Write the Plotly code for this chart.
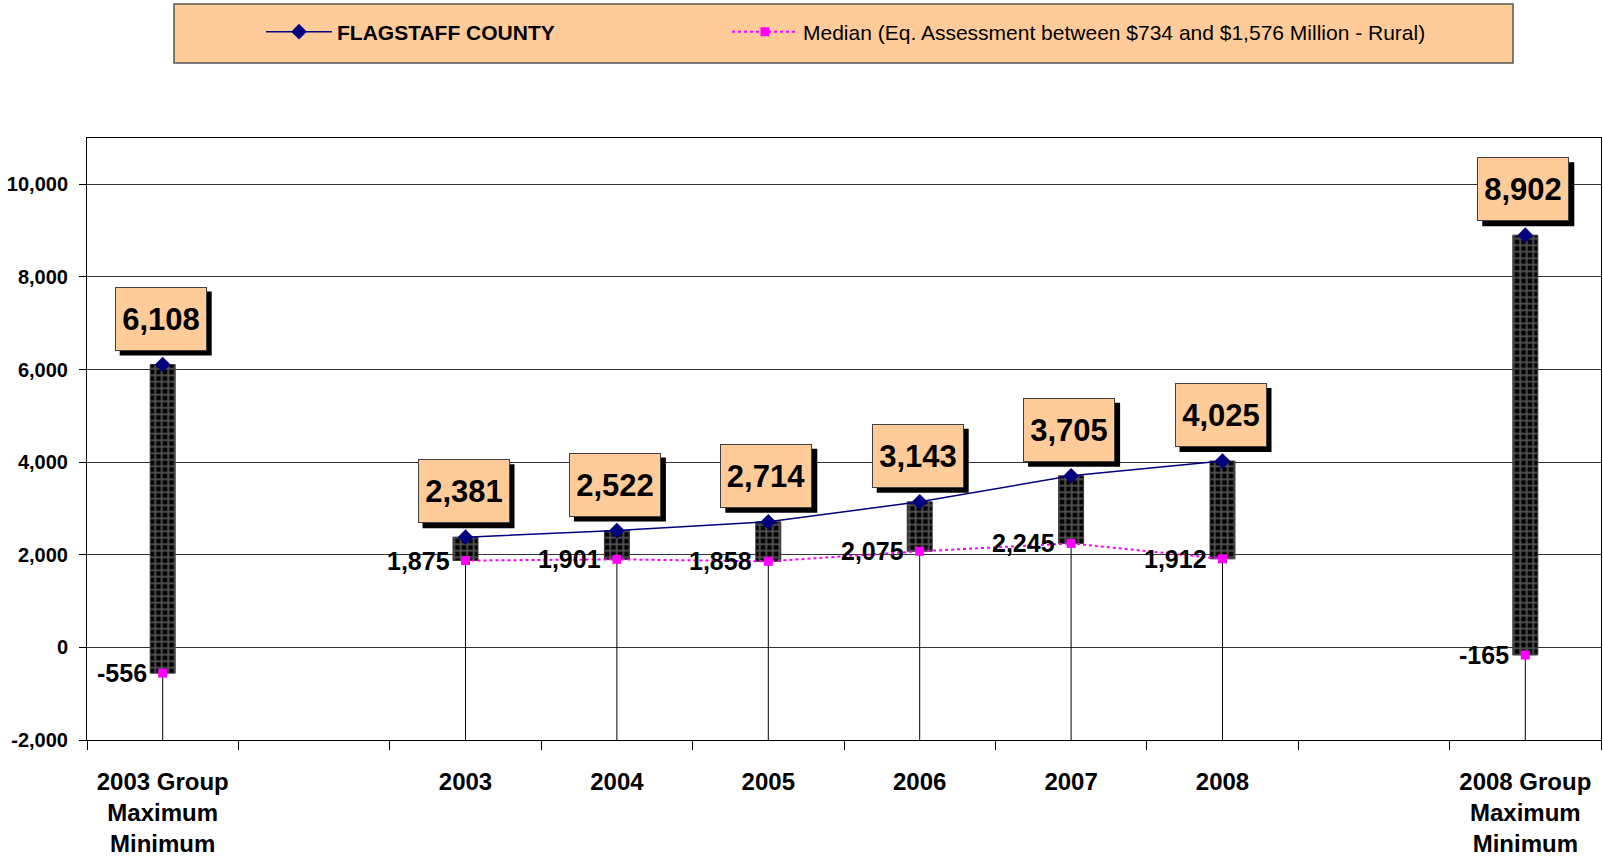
import plotly.graph_objects as go

# ---------------- data ----------------
categories = [
    "2003 Group<br>Maximum<br>Minimum", " ", "2003", "2004", "2005",
    "2006", "2007", "2008", "  ", "2008 Group<br>Maximum<br>Minimum",
]
county_values = [6108, None, 2381, 2522, 2714, 3143, 3705, 4025, None, 8902]
median_values = [-556, None, 1875, 1901, 1858, 2075, 2245, 1912, None, -165]
y_tick_values = [-2000, 0, 2000, 4000, 6000, 8000, 10000]
y_tick_labels = [f"{v:,}" for v in y_tick_values]

county_name = "<b>FLAGSTAFF COUNTY</b>"
median_name = "Median (Eq. Assessment between $734 and $1,576 Million - Rural)"

# ---------------- layout constants ----------------
W, H = 1603, 862
PL, PR, PT, PB = 87, 1601, 138, 740
Y_MIN, Y_MAX = -2000, 11000
FONT = "Liberation Sans, Arial, sans-serif"
BOX_W, BOX_H = 92, 64          # label box size in px
BOX_DX, BOX_DY = -2, 46        # box centre offset from the point, px
SHADOW = 5                     # shadow offset, px


def px_x(px):
    return (px - PL) / (PR - PL)


def px_y(py):
    return 1 + (PT - py) / (PB - PT) if py < PT else (PB - py) / (PB - PT)


fig = go.Figure()

# drop lines from the lower point to the category axis
dx, dy = [], []
for c, m in zip(categories, median_values):
    if m is None:
        continue
    dx += [c, c, None]
    dy += [m, Y_MIN, None]
fig.add_trace(go.Scatter(x=dx, y=dy, mode="lines",
                         line=dict(color="black", width=1),
                         showlegend=False, hoverinfo="skip"))

# high-low bars
bx, blen, bbase = [], [], []
for c, hi, lo in zip(categories, county_values, median_values):
    if hi is None or lo is None:
        continue
    bx.append(c)
    blen.append(hi - lo)
    bbase.append(lo)
fig.add_trace(go.Bar(
    x=bx, y=blen, base=bbase, width=0.165,
    marker=dict(color="black",
                pattern=dict(shape="+", size=6.5, solidity=0.5,
                             fgcolor="#a3a3a3", bgcolor="black"),
                line=dict(color="#3a3a3a", width=1)),
    showlegend=False, hoverinfo="skip"))

fig.add_trace(go.Scatter(
    x=categories, y=county_values, mode="lines+markers", name=county_name,
    line=dict(color="#000080", width=1.5),
    marker=dict(symbol="diamond", size=12, color="#000080"),
    connectgaps=False, legend="legend"))

fig.add_trace(go.Scatter(
    x=categories, y=median_values, mode="lines+markers", name=median_name,
    line=dict(color="#FF00FF", width=2, dash="3px,3px"),
    marker=dict(symbol="square", size=9, color="#FF00FF"),
    connectgaps=False, legend="legend2"))

annotations = []
shapes = [dict(type="rect", xref="paper", yref="paper",
               x0=px_x(174), x1=px_x(1513), y0=px_y(63), y1=px_y(4),
               fillcolor="#FFCC99", line=dict(color="#555555", width=1.5),
               layer="below")]
for i, v in enumerate(county_values):
    if v is None:
        continue
    # drop shadow of the value box
    shapes.append(dict(type="rect", xref="x", yref="y",
                       xsizemode="pixel", ysizemode="pixel",
                       xanchor=i, yanchor=v,
                       x0=BOX_DX - BOX_W / 2 + SHADOW,
                       x1=BOX_DX + BOX_W / 2 + SHADOW,
                       y0=BOX_DY - BOX_H / 2 - SHADOW,
                       y1=BOX_DY + BOX_H / 2 - SHADOW,
                       fillcolor="black", line=dict(width=0), layer="above"))
    annotations.append(dict(x=i, y=v, xref="x", yref="y", text=f"<b>{v:,}</b>",
                            showarrow=False, width=BOX_W - 6, height=BOX_H - 6,
                            borderpad=2, borderwidth=1,
                            xanchor="center", yanchor="middle",
                            bgcolor="#FFCC99", bordercolor="#404040",
                            font=dict(family=FONT, size=31, color="black"),
                            xshift=BOX_DX, yshift=BOX_DY))
for i, m in enumerate(median_values):
    if m is None:
        continue
    annotations.append(dict(x=i, y=m, xref="x", yref="y", text=f"<b>{m:,}</b>",
                            showarrow=False, xanchor="right", yanchor="middle",
                            xshift=-14,
                            font=dict(family=FONT, size=25, color="black")))

legend_common = dict(orientation="h", xanchor="left", y=px_y(32),
                     yanchor="middle", bgcolor="rgba(0,0,0,0)", borderwidth=0,
                     font=dict(family=FONT, size=21, color="black"),
                     itemwidth=66, itemclick=False, itemdoubleclick=False)

fig.update_layout(
    width=W, height=H, autosize=False,
    margin=dict(l=PL, r=W - PR, t=PT, b=H - PB, pad=0),
    paper_bgcolor="white", plot_bgcolor="white",
    font=dict(family=FONT, color="black"),
    barmode="overlay",
    hovermode=False,
    annotations=annotations,
    shapes=shapes,
    legend=dict(legend_common, x=px_x(261)),
    legend2=dict(legend_common, x=px_x(727)),
    xaxis=dict(type="category", categoryorder="array", categoryarray=categories,
               range=[-0.5, len(categories) - 0.5],
               showgrid=False, zeroline=False,
               showline=True, linecolor="black", linewidth=1, mirror=True,
               ticks="outside", tickson="boundaries", ticklen=9,
               tickcolor="black", tickwidth=1,
               tickfont=dict(family=FONT, size=24, color="black", weight="bold"),
               ticklabelstandoff=20),
    yaxis=dict(range=[Y_MIN, Y_MAX], tickmode="array",
               tickvals=y_tick_values, ticktext=y_tick_labels,
               showgrid=True, gridcolor="#333333", gridwidth=1,
               zeroline=False, showline=True, linecolor="black", linewidth=1,
               mirror=True, ticks="outside", ticklen=7, tickcolor="black",
               tickfont=dict(family=FONT, size=20, color="black", weight="bold"),
               ticklabelstandoff=7),
)

fig.write_html("out.html", config={"displayModeBar": False, "staticPlot": True},
               post_script="document.body.style.margin='0';"
                           "document.body.style.overflow='hidden';")
